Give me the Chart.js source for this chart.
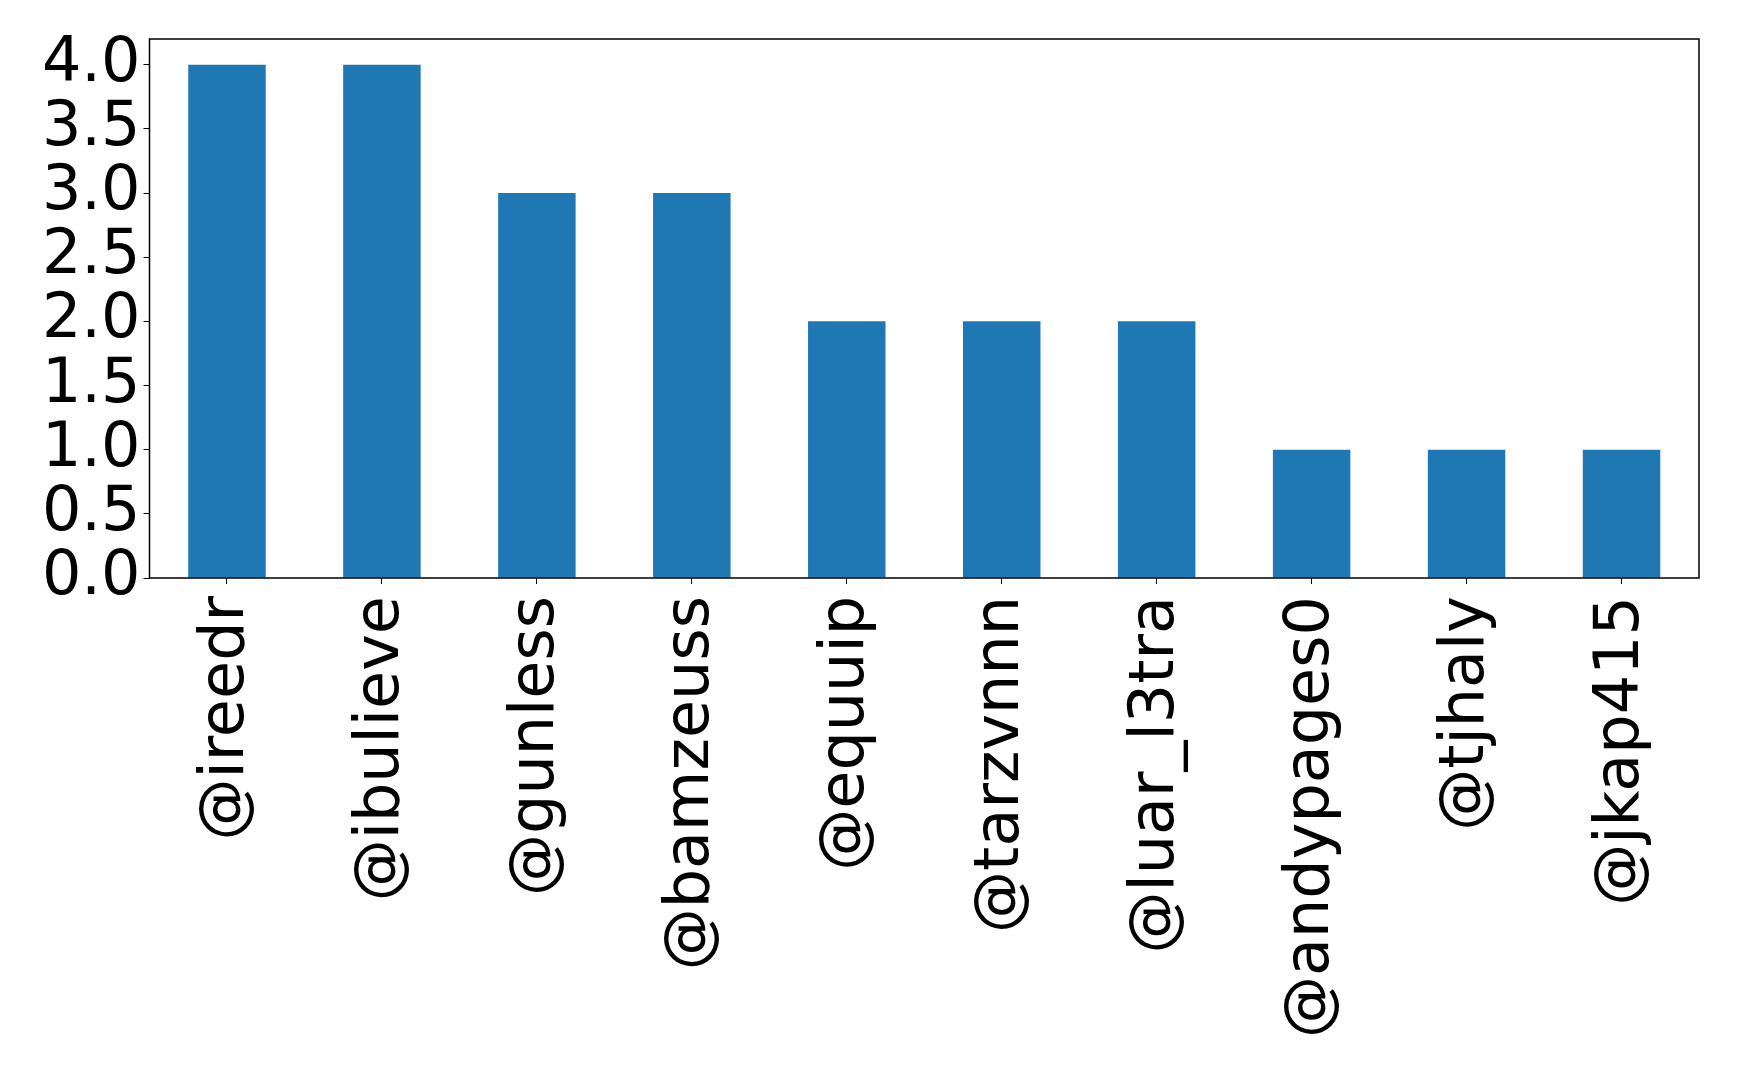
<!DOCTYPE html>
<html lang="en">
<head>
<meta charset="UTF-8" />
<title>Mentions</title>
<style>
  * {margin:0; padding:0; box-sizing:border-box;}
  body {background: #fff; width: 1739px; height: 1073px; overflow: hidden;}
  canvas {display: block;}
</style>
</head>
<body>
<canvas id="chart" width="1739" height="1073"></canvas>

<script src="https://cdn.jsdelivr.net/npm/chart.js"></script>
<script>
  // data
  const users = ['@ireedr', '@ibulieve', '@gunless', '@bamzeuss', '@equuip',
                 '@tarzvnnn', '@luar_l3tra', '@andypages0', '@tjhaly', '@jkap415'];
  const counts = [4, 4, 3, 3, 2, 2, 2, 1, 1, 1];
  const yTicks = [0, 0.5, 1, 1.5, 2, 2.5, 3, 3.5, 4];

  const FONT = {family: "'DejaVu Sans', sans-serif", size: 62};

  // box around the plot, like matplotlib spines
  const frame = {
    id: 'frame',
    afterDraw(chart) {
      const a = chart.chartArea, ctx = chart.ctx;
      ctx.save();
      ctx.strokeStyle = '#000';
      ctx.lineWidth = 1.5;
      ctx.strokeRect(a.left, a.top, a.right - a.left, a.bottom - a.top);
      ctx.restore();
    }
  };

  new Chart(document.getElementById('chart'), {
    type: 'bar',
    data: {
      labels: users,
      datasets: [{
        data: counts,
        backgroundColor: '#1f77b4',
        barPercentage: 0.5,
        categoryPercentage: 1.0
      }]
    },
    options: {
      responsive: false,
      animation: false,
      layout: {padding: {top: 39, right: 40, left: 0, bottom: 0}},
      plugins: {legend: {display: false}, tooltip: {enabled: false}},
      scales: {
        x: {
          grid: {display: true, drawOnChartArea: false, offset: false, tickLength: 6, tickColor: '#000'},
          border: {display: false},
          ticks: {color: '#000', font: FONT, minRotation: 90, maxRotation: 90, autoSkip: false, padding: 12},
          afterFit: s => { s.height = 495; s.paddingLeft = 0; s.paddingRight = 0; }
        },
        y: {
          min: 0, max: 4.2,
          grid: {display: true, drawOnChartArea: false, tickLength: 6, tickColor: '#000'},
          border: {display: false},
          ticks: {color: '#000', font: FONT, padding: 3, autoSkip: false,
                  callback: v => v.toFixed(1)},
          afterBuildTicks: s => { s.ticks = yTicks.map(v => ({value: v})); },
          afterFit: s => { s.width = 149.5; s.paddingTop = 0; s.paddingBottom = 0; }
        }
      }
    },
    plugins: [frame]
  });
</script>
</body>
</html>
